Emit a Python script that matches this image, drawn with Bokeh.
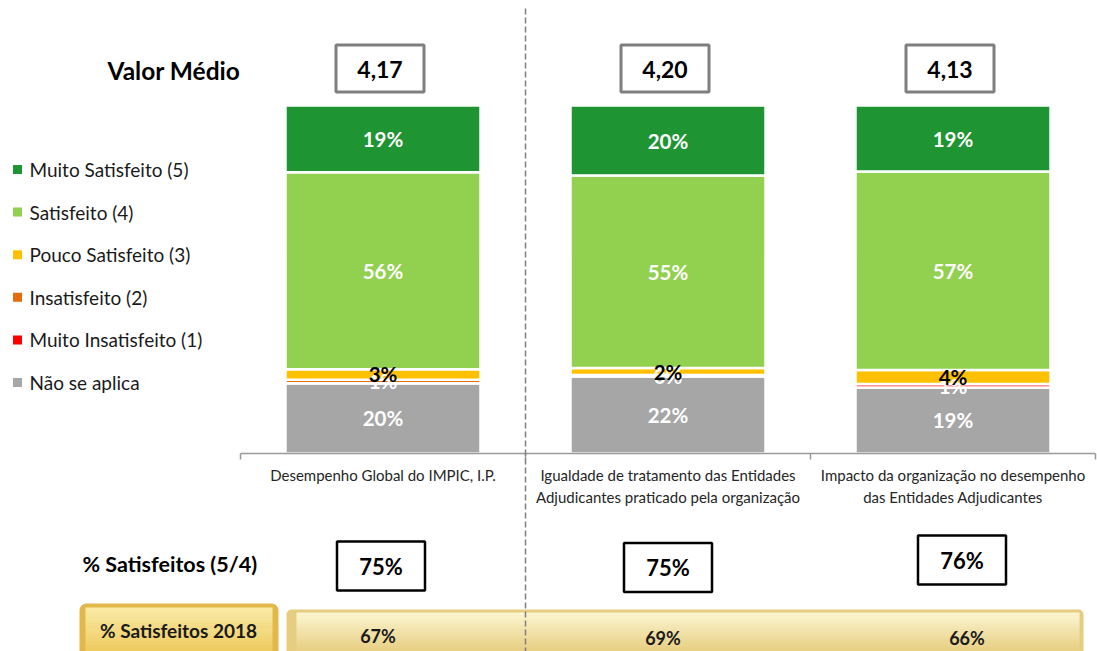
from bokeh.plotting import figure
from bokeh.models import Range1d, ColumnDataSource, BoxAnnotation
from bokeh.core.properties import value
from bokeh.embed import file_html
from bokeh.resources import INLINE

# ---------------- data ----------------
categories = [
    "Desempenho Global do IMPIC, I.P.",
    "Igualdade de tratamento das Entidades\nAdjudicantes praticado pela organização",
    "Impacto da organização no desempenho\ndas Entidades Adjudicantes",
]
series_names = ["Não se aplica", "Muito Insatisfeito (1)", "Insatisfeito (2)",
                "Pouco Satisfeito (3)", "Satisfeito (4)", "Muito Satisfeito (5)"]
nao_se_aplica = [20, 22, 19]
muito_insatisfeito = [0, 0.4, 1]
insatisfeito = [1, 0, 0]
pouco_satisfeito = [3, 2, 4]
satisfeito = [56, 55, 57]
muito_satisfeito = [19, 20, 19]
valor_medio = [4.17, 4.20, 4.13]
pct_satisfeitos = [75, 75, 76]
pct_satisfeitos_2018 = [67, 69, 66]

series_colors = ["#A6A6A6", "#FF0000", "#E46C0A", "#FFC000", "#92D050", "#1E9432"]
label_colors = ["#FFFFFF", "#FFFFFF", "#FFFFFF", "#000000", "#FFFFFF", "#FFFFFF"]

# ---------------- layout helpers (page pixels -> data) ----------------
FONT = value("Lato")
W, H = 1097, 651
OFF = 0                           # page offset of the canvas
AX_X0, CAT_W = 240.0, 285.0      # x of category axis start, width of one category (px)
AX_Y0, PCT_H = 453.0, 3.48       # y of bar baseline, px per percent


def dx(px):
    return (px - AX_X0) / CAT_W


def dy(py):
    return (AX_Y0 - py) / PCT_H


def mix(c1, c2, t):
    a = [int(c1[i:i + 2], 16) for i in (1, 3, 5)]
    b = [int(c2[i:i + 2], 16) for i in (1, 3, 5)]
    return "#" + "".join(f"{round(x + (y - x) * t):02X}" for x, y in zip(a, b))


p = figure(width=W, height=H,
           x_range=Range1d(dx(OFF), dx(OFF + W)), y_range=Range1d(dy(OFF + H), dy(OFF)),
           output_backend="svg", toolbar_location=None, min_border=0,
           x_axis_location=None, y_axis_location=None,
           outline_line_color=None, background_fill_color="white", border_fill_color="white")
p.grid.visible = False

n = len(categories)
xs = [i + 0.5 for i in range(n)]

# ---------------- 2018 row decoration (underlay) ----------------


def bevel(left, right, top, bottom, outer, c_top, c_bot, inset_l, inset_r, inset_y, radius):
    p.add_layout(BoxAnnotation(left=dx(left), right=dx(right), top=dy(top), bottom=dy(bottom),
                               fill_color=outer, fill_alpha=1, line_color=None,
                               border_radius=radius, level="underlay"))
    steps = 14
    it, ib = top + inset_y, min(bottom, OFF + H)
    for k in range(steps):
        t0 = it + (ib - it) * k / steps
        t1 = it + (ib - it) * (k + 1) / steps
        p.add_layout(BoxAnnotation(left=dx(left + inset_l), right=dx(right - inset_r),
                                   top=dy(t0), bottom=dy(t1 + 0.5),
                                   fill_color=mix(c_top, c_bot, k / (steps - 1)), fill_alpha=1,
                                   line_color=None, level="underlay"))


bevel(79, 278, 603, 670, "#E2B84A", "#FAEAA4", "#EECC62", 6, 6, 4, 7)
bevel(286, 1083, 609, 670, "#E6CD80", "#FBF5CF", "#E8CF84", 10, 4, 3, 5)

# ---------------- stacked bars ----------------
stack = [nao_se_aplica, muito_insatisfeito, insatisfeito, pouco_satisfeito, satisfeito, muito_satisfeito]
keys = [f"s{i}" for i in range(len(stack))]
totals = [sum(col) for col in zip(*stack)]
data = {"x": xs}
for k, vals in zip(keys, stack):
    data[k] = [v / t * 100 for v, t in zip(vals, totals)]
src = ColumnDataSource(data)
p.vbar_stack(keys, x="x", width=195 / CAT_W, source=src,
             fill_color=series_colors, line_color="white", line_width=2.5)

# segment labels
lx, ly, lt, lc = [], [], [], []
for j in range(n):
    base = 0.0
    for i, vals in enumerate(stack):
        h = vals[j] / totals[j] * 100
        if vals[j] > 0:
            lx.append(xs[j])
            ly.append(base + h / 2)
            lt.append(f"{round(vals[j])}%")
            lc.append(label_colors[i])
        base += h
p.text(x="x", y="y", text="t", text_color="c",
       source=ColumnDataSource(dict(x=lx, y=ly, t=lt, c=lc)),
       text_font=FONT, text_font_style="bold", text_font_size="20.5px",
       text_align="center", text_baseline="middle")

# ---------------- category axis ----------------
bounds = list(range(n + 1))
p.segment(x0=[0], y0=[0], x1=[n], y1=[0], line_color="#9A9A9A", line_width=1.5)
p.segment(x0=bounds, y0=[0] * len(bounds), x1=bounds, y1=[-6 / PCT_H] * len(bounds),
          line_color="#9A9A9A", line_width=1.5)
p.text(x=xs, y=[dy(465)] * n, text=categories, text_font=FONT, text_font_size="15px",
       text_color="#262626", text_align="center", text_baseline="top", text_line_height=1.27)

# dashed separator
p.segment(x0=[1], y0=[dy(8)], x1=[1], y1=[dy(OFF + H)], line_color="#7F7F7F",
          line_width=1.5, line_dash="6 3")

# ---------------- legend (manual) ----------------
leg_names = series_names[::-1]
leg_colors = series_colors[::-1]
leg_y = [dy(169 + k * 42.6) for k in range(len(leg_names))]
p.scatter(x=[dx(17)] * len(leg_names), y=leg_y, marker="square", size=9,
          fill_color=leg_colors, line_color=None)
p.text(x=[dx(29)] * len(leg_names), y=leg_y, text=leg_names, text_font=FONT,
       text_font_size="19px", text_color="#1A1A1A", text_align="left", text_baseline="middle")

# ---------------- Valor Médio ----------------
p.text(x=[dx(107)], y=[dy(70)], text=["Valor Médio"], text_font=FONT, text_font_style="bold",
       text_font_size="24.5px", text_color="black", text_align="left", text_baseline="middle")
vm_x = [x - 3 / CAT_W for x in xs]
p.rect(x=vm_x, y=[dy(68)] * n, width=88, height=47, width_units="screen", height_units="screen",
       fill_color="white", line_color="#7F7F7F", line_width=3)
p.text(x=vm_x, y=[dy(68.5)] * n, text=[f"{v:.2f}".replace(".", ",") for v in valor_medio],
       text_font=FONT, text_font_style="bold", text_font_size="23px", text_color="black",
       text_align="center", text_baseline="middle")

# ---------------- % Satisfeitos (5/4) ----------------
p.text(x=[dx(82)], y=[dy(563)], text=["% Satisfeitos (5/4)"], text_font=FONT, text_font_style="bold",
       text_font_size="21.5px", text_color="black", text_align="left", text_baseline="middle")
sat_dx = [-2, 0, 9]
sat_py = [565.5, 567, 559.5]
sat_x = [x + d / CAT_W for x, d in zip(xs, sat_dx)]
sat_y = [dy(v) for v in sat_py]
p.rect(x=sat_x, y=sat_y, width=88, height=49, width_units="screen", height_units="screen",
       fill_color="white", line_color="black", line_width=2.5)
p.text(x=sat_x, y=sat_y, text=[f"{v}%" for v in pct_satisfeitos], text_font=FONT,
       text_font_style="bold", text_font_size="22px", text_color="black",
       text_align="center", text_baseline="middle")

# ---------------- % Satisfeitos 2018 ----------------
p.text(x=[dx(178)], y=[dy(630)], text=["% Satisfeitos 2018"], text_font=FONT,
       text_font_style="bold", text_font_size="19px", text_color="#1A1A1A",
       text_align="center", text_baseline="middle")
old_dx = [-5, -5, 14]
old_py = [635, 637, 637]
p.text(x=[x + d / CAT_W for x, d in zip(xs, old_dx)], y=[dy(v) for v in old_py],
       text=[f"{v}%" for v in pct_satisfeitos_2018], text_font=FONT, text_font_style="bold",
       text_font_size="18px", text_color="#1A1A1A", text_align="center", text_baseline="middle")

open("out.html", "w").write(file_html(p, INLINE))
